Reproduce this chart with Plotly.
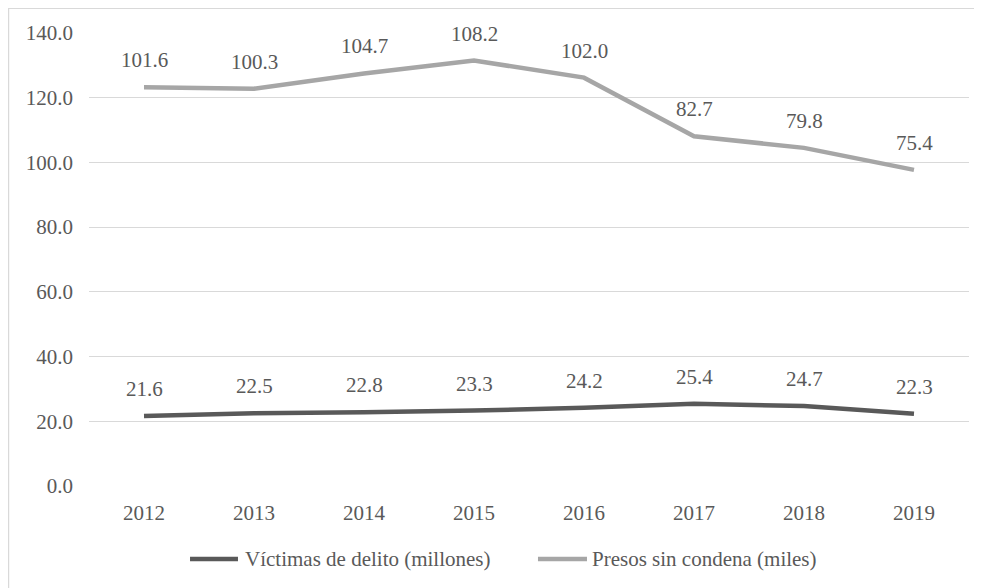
import plotly.graph_objects as go

years = ["2012", "2013", "2014", "2015", "2016", "2017", "2018", "2019"]
victimas = [21.6, 22.5, 22.8, 23.3, 24.2, 25.4, 24.7, 22.3]
presos = [101.6, 100.3, 104.7, 108.2, 102.0, 82.7, 79.8, 75.4]
y_ticks = [0, 20, 40, 60, 80, 100, 120, 140]
series_names = ["Víctimas de delito (millones)", "Presos sin condena (miles)"]
series_colors = ["#595959", "#A6A6A6"]

FONT = "Liberation Serif, Times New Roman, serif"
FS = 21
TXT = "#595959"

fig = go.Figure()
for vals, name, col in zip([victimas, presos], series_names, series_colors):
    fig.add_trace(go.Scatter(
        x=years, y=vals, name=name, showlegend=False,
        mode="lines", stackgroup="one", fill="none",
        line=dict(color=col, width=4.5),
    ))

annotations = []
for i, yr in enumerate(years):
    annotations.append(dict(x=i, y=victimas[i], xref="x", yref="y",
                            text=f"{victimas[i]:.1f}",
                            showarrow=False, yshift=27,
                            font=dict(family=FONT, size=FS, color=TXT)))
    annotations.append(dict(x=i, y=victimas[i] + presos[i], xref="x", yref="y",
                            text=f"{presos[i]:.1f}",
                            showarrow=False, yshift=27,
                            font=dict(family=FONT, size=FS, color=TXT)))

# custom legend (line sample + text)
leg_y = -0.161
leg_lines = [(0.1148, 0.1693), (0.5102, 0.5659)]
leg_text_x = [0.1750, 0.5693]
shapes = [dict(type="rect", xref="paper", yref="paper",
               x0=-0.0915, x1=1.05, y0=-0.3, y1=1.0548,
               line=dict(color="#D9D9D9", width=1.5), layer="below")]
for (x0, x1), tx, name, col in zip(leg_lines, leg_text_x, series_names, series_colors):
    shapes.append(dict(type="line", xref="paper", yref="paper",
                       x0=x0, x1=x1, y0=leg_y, y1=leg_y,
                       line=dict(color=col, width=4.5)))
    annotations.append(dict(x=tx, y=leg_y, xref="paper", yref="paper",
                            xanchor="left", yanchor="middle", text=name,
                            showarrow=False,
                            font=dict(family=FONT, size=FS, color=TXT)))

fig.update_layout(
    width=974, height=580,
    margin=dict(l=81, r=13, t=25, b=102),
    paper_bgcolor="white", plot_bgcolor="white",
    font=dict(family=FONT, size=FS, color=TXT),
    showlegend=False,
    annotations=annotations,
    shapes=shapes,
    xaxis=dict(type="category", range=[-0.5, 7.5], showgrid=False, showline=False,
               zeroline=False, ticks="", ticklabelstandoff=12,
               tickfont=dict(family=FONT, size=FS, color=TXT)),
    yaxis=dict(range=[0, 140], tickvals=y_ticks, tickformat=".1f",
               showgrid=True, gridcolor="#D9D9D9", gridwidth=1.3,
               zeroline=False, showline=False, ticks="", ticklabelstandoff=15,
               tickfont=dict(family=FONT, size=FS, color=TXT)),
)
fig.write_html("out.html")
